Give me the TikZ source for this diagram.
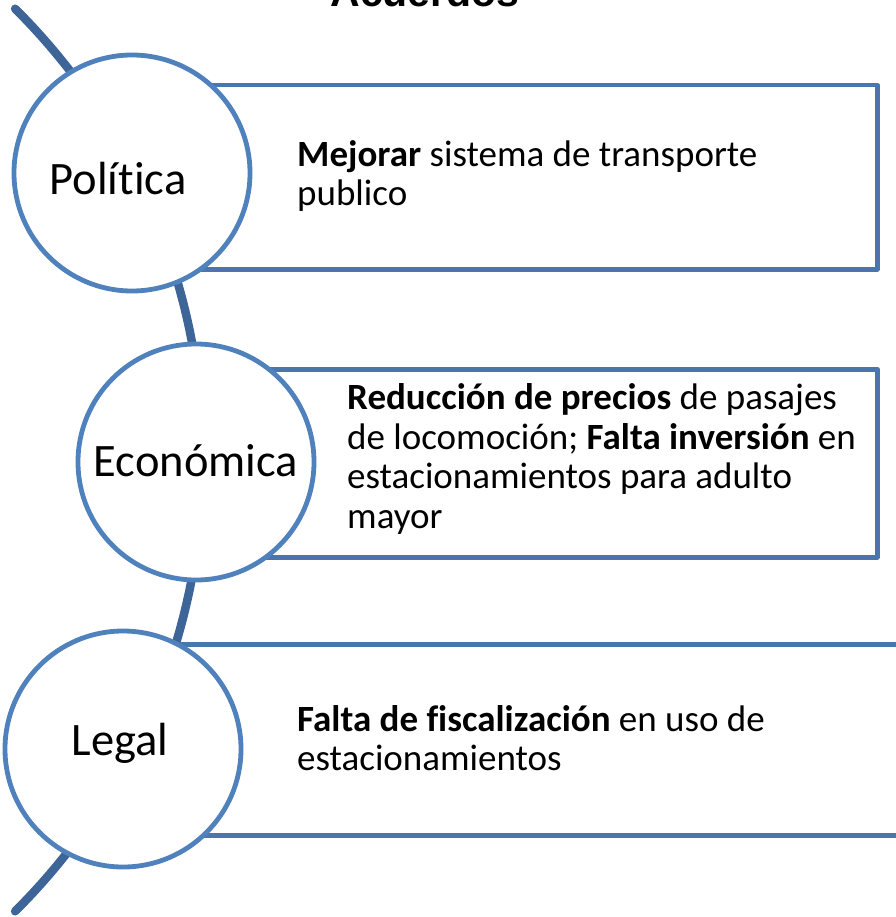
\documentclass[tikz,border=0pt]{standalone}
\usepackage{fontspec}
\setmainfont[Ligatures=NoCommon]{Carlito}
\newfontfamily\titlefont{Liberation Sans}
\definecolor{circblue}{HTML}{4F81BD}
\definecolor{rectblue}{HTML}{4A76AE}
\definecolor{spineblue}{HTML}{3D6597}
\begin{document}
\begin{tikzpicture}[x=1pt,y=-1pt,
  spine/.style={spineblue, line width=8.5pt, line cap=round},
  panel/.style={rectangle, draw=rectblue, line width=4.5pt, fill=white, line join=round, inner sep=0pt, anchor=north west},
  disc/.style={circle, draw=circblue, line width=4.8pt, fill=white, minimum size=236pt, inner sep=0pt},
  lbl/.style={font=\fontsize{46.5}{50}\selectfont, inner sep=0pt, anchor=base},
  body/.style={font=\fontsize{37}{39.5}\selectfont, align=left, inner sep=0pt, anchor=west}]
\useasboundingbox (0,0) rectangle (895,917);
% spine arc
\draw[spine] plot[domain=-45.2:45.2, samples=80] ({-433+636*cos(\x)},{460+636*sin(\x)});
% title
\node[font=\titlefont\bfseries\fontsize{41}{45}\selectfont, anchor=base, inner sep=0pt] (title) at (425,7) {Acuerdos};
% panels
\node[panel, minimum width=743pt, minimum height=184pt] (p1) at (132,83) {};
\node[panel, minimum width=679pt, minimum height=188pt] (p2) at (196,367) {};
\node[panel, minimum width=840pt, minimum height=191pt] (p3) at (123,642) {};
% circles
\node[disc] (c1) at (132,173) {};
\node[disc] (c2) at (196,462) {};
\node[disc] (c3) at (123,749) {};
% circle labels
\node[lbl] (l1) at (118,195) {Política};
\node[lbl] (l2) at (196,476) {Económica};
\node[lbl] (l3) at (120,755) {Legal};
% panel texts
\node[body] (t1) at (297,176) {\textbf{Mejorar} sistema de transporte\\publico};
\node[body] (t2) at (347,459) {\textbf{Reducción de precios} de pasajes\\de locomoción; \textbf{Falta inversión} en\\estacionamientos para adulto\\mayor};
\node[body] (t3) at (297,738) {\textbf{Falta de fiscalización} en uso de\\estacionamientos};
\end{tikzpicture}
\end{document}
